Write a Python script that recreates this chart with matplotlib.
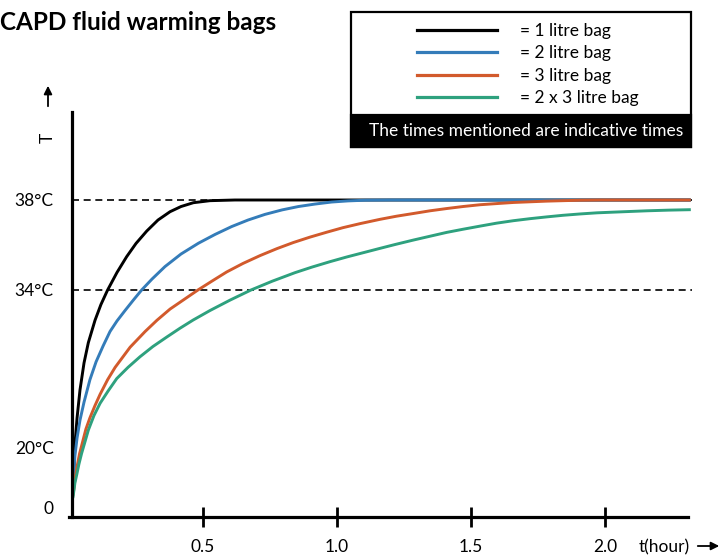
import numpy as np
import matplotlib
matplotlib.use("Agg")
import matplotlib.pyplot as plt
from matplotlib.patches import Rectangle, FancyArrowPatch
from matplotlib.lines import Line2D

plt.rcParams['font.family'] = ['Lato', 'DejaVu Sans']

# ---------------- data ----------------
title = "CAPD fluid warming bags"
note = "The times mentioned are indicative times"
series_labels = ["= 1 litre bag", "= 2 litre bag", "= 3 litre bag", "= 2 x 3 litre bag"]
series_colors = ["#000000", "#347cb9", "#d25a2c", "#2ea17e"]

# time (hours) and temperature (deg C)
t_1l = [0, 0.015, 0.019, 0.022, 0.030, 0.041, 0.056, 0.072, 0.097, 0.119, 0.144,
        0.179, 0.215, 0.250, 0.290, 0.332, 0.377, 0.418, 0.464, 0.526, 0.619, 2.32]
T_1l = [0, 7.5, 14.1, 20.2, 22.6, 25.1, 27.5, 29.3, 31.3, 32.7, 34.0,
        34.78, 35.48, 36.07, 36.62, 37.11, 37.48, 37.71, 37.88, 37.97, 38.0, 38.0]

t_2l = [0, 0.015, 0.019, 0.022, 0.030, 0.041, 0.056, 0.078, 0.101, 0.127, 0.153,
        0.179, 0.209, 0.240, 0.271, 0.310, 0.358, 0.418, 0.483, 0.545, 0.607,
        0.668, 0.731, 0.795, 0.856, 0.918, 0.980, 1.041, 1.105, 1.198, 2.32]
T_2l = [0, 7.9, 13.1, 17.1, 20.8, 22.4, 24.0, 26.0, 27.6, 29.0, 30.3,
        31.24, 32.17, 33.1, 34.0, 34.49, 35.04, 35.6, 36.08, 36.47, 36.82,
        37.11, 37.36, 37.56, 37.71, 37.82, 37.91, 37.96, 37.99, 38.0, 38.0]

t_3l = [0, 0.015, 0.019, 0.022, 0.030, 0.039, 0.049, 0.063, 0.078, 0.097, 0.116,
        0.144, 0.172, 0.200, 0.228, 0.256, 0.284, 0.328, 0.377, 0.429, 0.481,
        0.534, 0.588, 0.649, 0.713, 0.776, 0.837, 0.899, 0.962, 1.022, 1.086,
        1.160, 1.222, 1.285, 1.347, 1.409, 1.470, 1.534, 1.595, 1.658, 1.720,
        1.783, 1.843, 1.907, 1.981, 2.32]
T_3l = [0, 4.3, 6.9, 9.5, 13.6, 17.7, 20.3, 21.6, 22.6, 23.7, 24.7,
        26.0, 27.1, 28.0, 28.9, 29.6, 30.3, 31.3, 32.3, 33.15, 34.0,
        34.4, 34.8, 35.18, 35.53, 35.84, 36.11, 36.35, 36.57, 36.77, 36.95,
        37.14, 37.28, 37.40, 37.52, 37.62, 37.71, 37.79, 37.84, 37.89, 37.92,
        37.95, 37.97, 37.99, 38.0, 38.0]

t_2x3l = [0, 0.015, 0.019, 0.022, 0.029, 0.037, 0.047, 0.060, 0.072, 0.093, 0.116,
          0.146, 0.178, 0.220, 0.265, 0.313, 0.365, 0.414, 0.463, 0.526, 0.601,
          0.679, 0.758, 0.843, 0.907, 0.974, 1.037, 1.105, 1.160, 1.216, 1.285,
          1.347, 1.409, 1.470, 1.534, 1.595, 1.658, 1.720, 1.783, 1.843, 1.907,
          1.970, 2.031, 2.093, 2.156, 2.239, 2.32]
T_2x3l = [0, 3.6, 6.2, 8.2, 11.0, 14.4, 17.9, 20.5, 21.5, 22.8, 23.9,
          25.0, 26.1, 27.1, 28.05, 28.96, 29.81, 30.59, 31.32, 32.17, 33.10,
          34.0, 34.39, 34.77, 35.02, 35.26, 35.47, 35.68, 35.85, 36.02, 36.22,
          36.39, 36.56, 36.70, 36.84, 36.97, 37.08, 37.17, 37.25, 37.32, 37.38,
          37.43, 37.46, 37.49, 37.52, 37.55, 37.57]

x_ticks = [0.5, 1.0, 1.5, 2.0]
x_tick_labels = ["0.5", "1.0", "1.5", "2.0"]
y_ticks = [0, 20, 34, 38]
y_tick_labels = ["0", "20°C", "34°C", "38°C"]
ref_temps = [34, 38]

# schematic (non-linear) temperature axis: piecewise-linear scale
scale_T = [-20, 0, 20, 34, 38, 60]
scale_pos = [-61, 0, 61, 218, 308, 803]


def fwd(v):
    return np.interp(v, scale_T, scale_pos)


def inv(p):
    return np.interp(p, scale_pos, scale_T)


# ---------------- figure ----------------
W, H = 722, 556
fig = plt.figure(figsize=(W / 100, H / 100), dpi=100)


def fx(x):
    return x / W


def fy(y):
    return 1 - y / H


ax_left, ax_right, ax_top, ax_bottom = 71.7, 690.8, 112, 517
ax = fig.add_axes([fx(ax_left), fy(ax_bottom), (ax_right - ax_left) / W, (ax_bottom - ax_top) / H])
ax.set_yscale('function', functions=(fwd, inv))
ax.set_xlim(0.01, 2.32)
ax.set_ylim(inv(-9), inv(396))

for T in ref_temps:
    ax.plot([0.01, 2.325], [T, T], color='black', lw=1.2, dashes=(4.2, 2.8), zorder=1,
            clip_on=False)

series = [(t_1l, T_1l), (t_2l, T_2l), (t_3l, T_3l), (t_2x3l, T_2x3l)]
for (tt, TT), c in zip(series, series_colors):
    ax.plot(tt, TT, color=c, lw=2.1, solid_capstyle='butt', solid_joinstyle='round',
            zorder=3)

for s in ['top', 'right']:
    ax.spines[s].set_visible(False)
for s in ['left', 'bottom']:
    ax.spines[s].set_linewidth(2.3)
    ax.spines[s].set_zorder(5)
ax.spines['bottom'].set_bounds(0.0, 2.31)

ax.set_xticks(x_ticks, x_tick_labels)
ax.tick_params(axis='x', direction='inout', length=15, width=2.0, pad=8, labelsize=12.5)
ax.set_yticks(y_ticks, y_tick_labels)
ax.yaxis.set_minor_locator(matplotlib.ticker.NullLocator())
ax.tick_params(axis='y', length=0, pad=13, labelsize=12.5)

# title
fig.text(fx(0), fy(22), title, fontsize=17.5, fontweight='bold', ha='left', va='center')

# y label + arrow
fig.text(fx(48), fy(138), "T", rotation=90, fontsize=12.5, ha='center', va='center')
fig.patches.append(FancyArrowPatch(
    (fx(48), fy(109)), (fx(48), fy(83)), transform=fig.transFigure,
    arrowstyle='-|>', mutation_scale=12, color='black', lw=1.3))

# x label + arrow
fig.text(fx(639), fy(547), "t(hour)", fontsize=12.5, ha='left', va='center')
fig.patches.append(FancyArrowPatch(
    (fx(695), fy(546)), (fx(722), fy(546)), transform=fig.transFigure,
    arrowstyle='-|>', mutation_scale=12, color='black', lw=1.3))

# legend box
bx0, by0, bx1, by1, band = 351, 12, 691, 147, 115
fig.patches.append(Rectangle((fx(bx0), fy(by1)), (bx1 - bx0) / W, (by1 - by0) / H,
                             transform=fig.transFigure, facecolor='white',
                             edgecolor='black', lw=1.6))
fig.patches.append(Rectangle((fx(bx0), fy(by1)), (bx1 - bx0) / W, (by1 - band) / H,
                             transform=fig.transFigure, facecolor='black',
                             edgecolor='black', lw=1.6))
leg_y = [30, 52, 75, 97]
for yy, lab, c in zip(leg_y, series_labels, series_colors):
    fig.lines.append(Line2D([fx(417), fx(497)], [fy(yy), fy(yy)], transform=fig.transFigure,
                            color=c, lw=2.3))
    fig.text(fx(520), fy(yy + 1), lab, fontsize=12.5, ha='left', va='center')
fig.text(fx(526), fy(131), note, fontsize=12.5, color='white', ha='center', va='center')

fig.savefig("out.png", dpi=100)
